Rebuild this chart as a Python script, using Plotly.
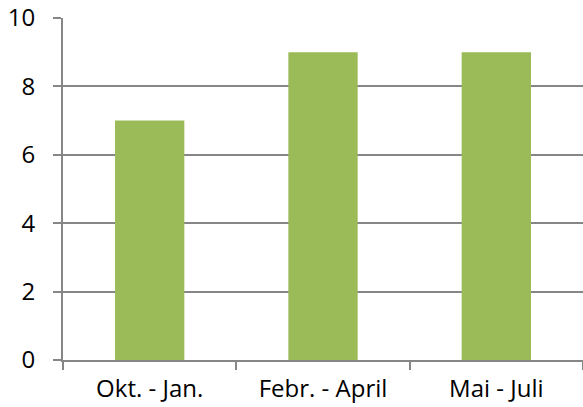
import plotly.graph_objects as go

categories = ["Okt. - Jan.", "Febr. - April", "Mai - Juli"]
values = [7, 9, 9]
y_ticks = [0, 2, 4, 6, 8, 10]

grid = "#868686"
font = dict(family="Open Sans, sans-serif", size=24, color="#000000")

fig = go.Figure(go.Bar(x=categories, y=values, marker=dict(color="#9BBB59", line=dict(width=0)), width=0.4))

fig.update_layout(
    width=583, height=407,
    margin=dict(l=63, r=0, t=18, b=47),
    paper_bgcolor="white", plot_bgcolor="white",
    font=font, showlegend=False,
)
fig.update_xaxes(
    type="category", showline=True, linecolor=grid, linewidth=2,
    ticks="outside", tickson="boundaries", ticklen=8, tickcolor=grid, tickwidth=2,
    showgrid=False, tickfont=font, ticklabelstandoff=6, automargin=False,
)
fig.update_yaxes(
    range=[0, 10], tickvals=y_ticks, showline=True, linecolor=grid, linewidth=2,
    ticks="outside", ticklen=8, tickcolor=grid, tickwidth=2,
    showgrid=True, gridcolor=grid, gridwidth=2, zeroline=False,
    tickfont=font, ticklabelstandoff=13, automargin=False,
)

fig.write_html("out.html", config={"displayModeBar": False},
               post_script="document.body.style.margin='0';")
